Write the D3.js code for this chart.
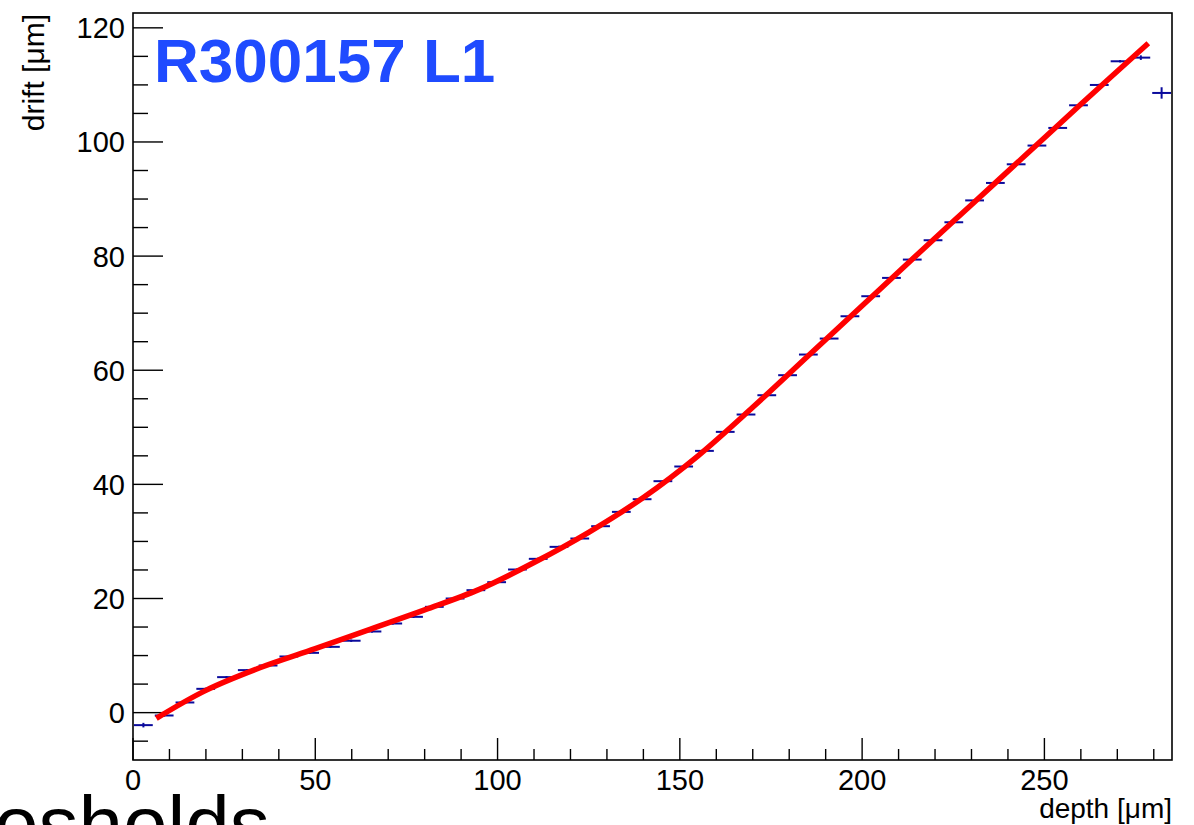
<!DOCTYPE html>
<html>
<head>
<meta charset="utf-8">
<script src="https://cdn.jsdelivr.net/npm/d3@7"></script>
<style>
  html, body { margin: 0; padding: 0; background: #fff; overflow: hidden; }
  svg { display: block; }
  text { font-family: "Liberation Sans", Arial, Helvetica, sans-serif; }
</style>
</head>
<body>
<svg id="chart" width="1194" height="825"></svg>
<script>
// ---- data ----
const binCount = 50;
const xRange = [0, 285];
const yRange = [-8.3, 122.6];
const drift = [
  -2.19, -0.5, 1.78, 4.17, 6.22, 7.45, 8.26, 9.84, 10.48, 11.53,
  12.6, 14.22, 15.62, 16.79, 18.54, 20.0, 21.46, 22.86, 25.08, 26.95,
  29.05, 30.51, 32.67, 35.18, 37.4, 40.56, 43.13, 45.87, 49.2, 52.24,
  55.62, 59.13, 62.75, 65.55, 69.46, 72.97, 76.18, 79.39, 82.78, 85.93,
  89.76, 92.82, 96.09, 99.37, 102.46, 106.43, 109.99, 114.14, 114.78, 108.59
];
const driftErr = [
  0.4, 0.2, 0.2, 0.2, 0.2, 0.2, 0.2, 0.2, 0.2, 0.2,
  0.2, 0.2, 0.2, 0.2, 0.2, 0.2, 0.2, 0.2, 0.2, 0.2,
  0.2, 0.2, 0.2, 0.2, 0.2, 0.2, 0.2, 0.2, 0.2, 0.2,
  0.2, 0.2, 0.2, 0.2, 0.2, 0.2, 0.2, 0.2, 0.2, 0.2,
  0.2, 0.2, 0.2, 0.2, 0.2, 0.2, 0.2, 0.2, 0.4, 1.0
];
const fitDepth = [6.4, 20, 35, 50, 65, 80, 95, 110, 125, 140, 155, 170, 185, 200, 215, 230, 245, 260, 278.5];
const fitDrift = [-1.0, 3.9, 7.9, 11.2, 14.6, 18.0, 21.6, 26.3, 31.6, 37.7, 45.0, 53.5, 62.4, 71.3, 80.2, 89.0, 97.8, 106.6, 117.3];
const xMajorTicks = [0, 50, 100, 150, 200, 250];
const yMajorTicks = [0, 20, 40, 60, 80, 100, 120];
const title = "R300157 L1";
const xLabel = "depth [\u03bcm]";
const yLabel = "drift [\u03bcm]";
const slideText = "osholds";

// ---- layout ----
const svg = d3.select("#chart");
const L = 133, R = 1172, T = 13, B = 760;
const x = d3.scaleLinear().domain(xRange).range([L, R]);
const y = d3.scaleLinear().domain(yRange).range([B, T]);
const binW = (xRange[1] - xRange[0]) / binCount;

// frame
svg.append("rect").attr("x", L).attr("y", T).attr("width", R - L).attr("height", B - T)
  .attr("fill", "none").attr("stroke", "#000").attr("stroke-width", 1.6);

// x axis ticks
const xMinor = d3.range(0, 281, 10);
svg.append("g").selectAll("line").data(xMinor).join("line")
  .attr("x1", d => x(d)).attr("x2", d => x(d))
  .attr("y1", B).attr("y2", d => B - (d % 50 === 0 ? 22 : 11))
  .attr("stroke", "#000").attr("stroke-width", 1.4);
svg.append("g").selectAll("text").data(xMajorTicks).join("text")
  .attr("x", d => x(d)).attr("y", 790)
  .attr("text-anchor", "middle").attr("font-size", 29).attr("fill", "#000")
  .text(d => d);

// y axis ticks
const yMinor = d3.range(-5, 121, 5);
svg.append("g").selectAll("line").data(yMinor).join("line")
  .attr("x1", L).attr("x2", d => L + (d % 20 === 0 ? 30 : 15))
  .attr("y1", d => y(d)).attr("y2", d => y(d))
  .attr("stroke", "#000").attr("stroke-width", 1.4);
svg.append("g").selectAll("text").data(yMajorTicks).join("text")
  .attr("x", 125).attr("y", d => y(d)).attr("dy", "0.36em")
  .attr("text-anchor", "end").attr("font-size", 29).attr("fill", "#000")
  .text(d => d);

// axis titles
svg.append("text").attr("x", R).attr("y", 818).attr("text-anchor", "end")
  .attr("font-size", 28).attr("fill", "#000").text(xLabel);
svg.append("text").attr("transform", `translate(44, ${T + 1}) rotate(-90)`)
  .attr("text-anchor", "end").attr("font-size", 30).attr("fill", "#000").text(yLabel);

// data points (bin-width horizontal bars + vertical error bars)
const pts = drift.map((v, i) => ({ lo: xRange[0] + i * binW, hi: xRange[0] + (i + 1) * binW, c: xRange[0] + (i + 0.5) * binW, v, e: driftErr[i] }));
const gp = svg.append("g").attr("stroke", "#0a0a9c").attr("stroke-width", 2);
gp.selectAll("line.h").data(pts).join("line").attr("class", "h")
  .attr("x1", d => x(d.lo) + 1).attr("x2", d => x(d.hi) - 1)
  .attr("y1", d => y(d.v)).attr("y2", d => y(d.v));
gp.selectAll("line.v").data(pts).join("line").attr("class", "v")
  .attr("x1", d => x(d.c)).attr("x2", d => x(d.c))
  .attr("y1", d => y(d.v - d.e)).attr("y2", d => y(d.v + d.e));

// fit curve
const fit = fitDepth.map((d, i) => [d, fitDrift[i]]);
svg.append("path").datum(fit)
  .attr("d", d3.line().x(d => x(d[0])).y(d => y(d[1])).curve(d3.curveCatmullRom.alpha(0.5)))
  .attr("fill", "none").attr("stroke", "#ff0000").attr("stroke-width", 5.5);

// title
svg.append("text").attr("x", 154).attr("y", 82)
  .attr("font-size", 62).attr("font-weight", "bold").attr("fill", "#1f4bff")
  .text(title);

// slide text fragment at bottom-left
svg.append("text").attr("x", -6).attr("y", 852)
  .attr("font-size", 80).attr("fill", "#000").text(slideText);
</script>
</body>
</html>
